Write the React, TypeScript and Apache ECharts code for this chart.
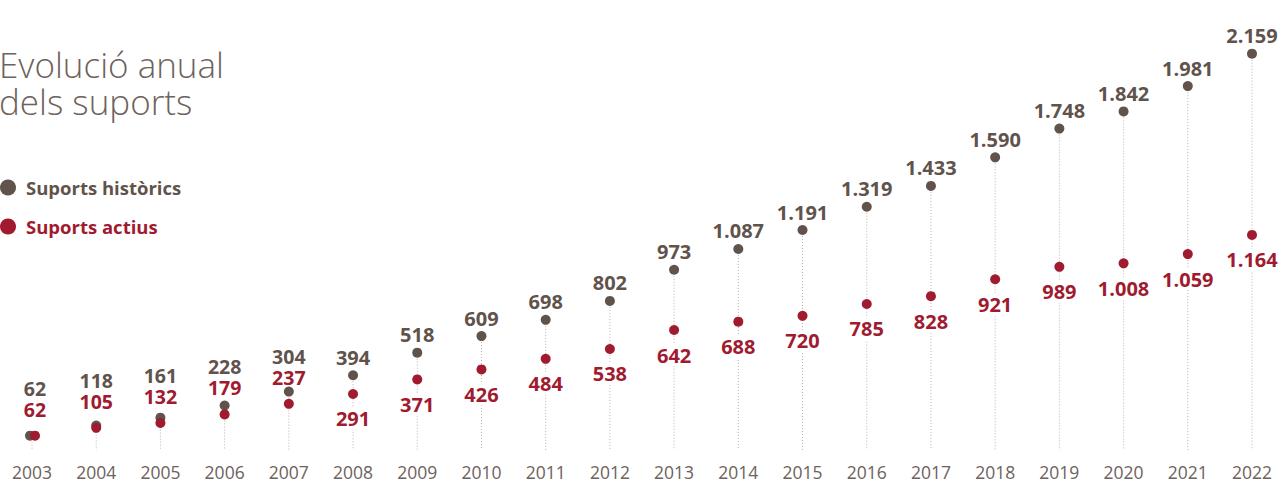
import React, { useEffect, useRef } from "react";
import * as echarts from "echarts";

const years = ["2003","2004","2005","2006","2007","2008","2009","2010","2011","2012","2013","2014","2015","2016","2017","2018","2019","2020","2021","2022"];
const historics = [62,118,161,228,304,394,518,609,698,802,973,1087,1191,1319,1433,1590,1748,1842,1981,2159];
const actius = [62,105,132,179,237,291,371,426,484,538,642,688,720,785,828,921,989,1008,1059,1164];
const stackedLabelCount = 5; // first years: both labels stacked above the dots

const GREY = "#5f534c";
const RED = "#a01b30";
const FONT = "'Open Sans', 'Noto Sans', sans-serif";

const fmt = (v: number) => String(v).replace(/\B(?=(\d{3})+(?!\d))/g, ".");

export default function App() {
  const ref = useRef<HTMLDivElement>(null);
  useEffect(() => {
    const chart = echarts.init(ref.current!, null, { renderer: "svg" });
    chart.setOption({
      animation: false,
      backgroundColor: "#fff",
      title: {
        text: "Evolució anual\ndels suports",
        left: -1,
        top: 46,
        padding: 0,
        textStyle: { fontFamily: FONT, fontWeight: 300, fontSize: 35, lineHeight: 37, color: "#6d625c" },
      },
      legend: {
        orient: "vertical",
        left: 0,
        top: 178,
        padding: 0,
        itemWidth: 16,
        itemHeight: 16,
        itemGap: 20,
        icon: "circle",
        itemStyle: { opacity: 1 },
        data: [
          { name: "Suports històrics", textStyle: { color: GREY } },
          { name: "Suports actius", textStyle: { color: RED } },
        ],
        textStyle: { fontFamily: FONT, fontWeight: "bold", fontSize: 18.5, padding: [0, 0, 0, 5] },
      },
      grid: { left: 32, right: 29, top: 28, bottom: 36 },
      xAxis: {
        type: "category",
        data: years,
        boundaryGap: false,
        axisLine: { show: false },
        axisTick: { show: false },
        axisLabel: { color: "#6d625c", fontFamily: FONT, fontSize: 17.5, lineHeight: 16, margin: 17 },
      },
      yAxis: { type: "value", min: 0, max: 2300, show: false, splitLine: { show: false } },
      series: [
        {
          type: "custom",
          name: "stems",
          silent: true,
          data: historics.map((v, i) => [i, v]),
          renderItem: (params: any, api: any) => {
            const p = api.coord([api.value(0), api.value(1)]);
            const b = api.coord([api.value(0), 0]);
            return {
              type: "line",
              shape: { x1: p[0], y1: p[1], x2: b[0], y2: b[1] + 3 },
              style: { stroke: "#b9b1ac", lineWidth: 1, lineDash: [1, 2] },
            };
          },
          z: 1,
        },
        {
          type: "scatter",
          name: "Suports històrics",
          symbolSize: 10,
          itemStyle: { color: GREY, opacity: 1 },
          data: historics.map((v, i) => ({
            value: v,
            symbolOffset: actius[i] === v ? [-2, 0] : [0, 0],
            label: { show: i >= stackedLabelCount },
          })),
          label: {
            position: "top",
            distance: 3,
            color: GREY,
            fontFamily: FONT,
            fontWeight: "bold",
            fontSize: 20,
            formatter: (p: any) => fmt(p.value),
          },
          z: 3,
        },
        {
          type: "scatter",
          name: "Suports actius",
          symbolSize: 10,
          itemStyle: { color: RED, opacity: 1 },
          data: actius.map((v, i) =>
            i < stackedLabelCount
              ? {
                  value: v,
                  symbolOffset: historics[i] === v ? [3, 0] : [0, 0],
                  label: {
                    position: "top",
                    distance: 11,
                    backgroundColor: "transparent",
                    padding: 0,
                    formatter: () => `{g|${fmt(historics[i])}}\n{r|${fmt(v)}}`,
                    rich: {
                      g: { color: GREY, fontFamily: FONT, fontWeight: "bold", fontSize: 19.5, lineHeight: 21 },
                      r: { color: RED, fontFamily: FONT, fontWeight: "bold", fontSize: 19.5, lineHeight: 21 },
                    },
                  },
                }
              : { value: v }
          ),
          label: {
            show: true,
            position: "bottom",
            distance: 9,
            color: RED,
            fontFamily: FONT,
            fontWeight: "bold",
            fontSize: 20,
            lineHeight: 20,
            backgroundColor: "#fff",
            padding: [1, 3],
            formatter: (p: any) => fmt(p.value),
          },
          z: 4,
        },
      ],
    });
    return () => chart.dispose();
  }, []);
  return <div ref={ref} style={{ position: "fixed", left: 0, top: 0, width: 1281, height: 483 }} />;
}
